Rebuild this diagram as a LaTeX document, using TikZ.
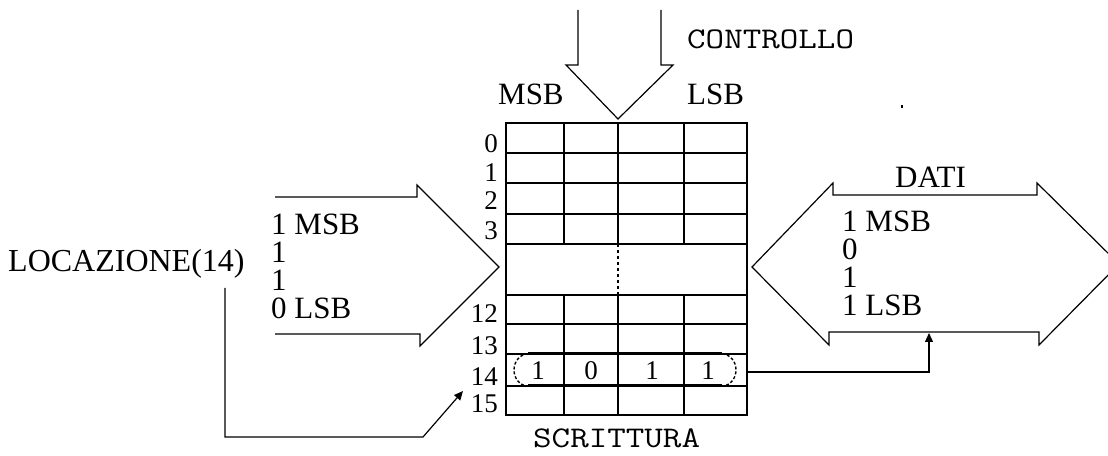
\documentclass[tikz,border=0pt]{standalone}
\usepackage{fontspec}
\setmainfont{Liberation Serif}
\usetikzlibrary{arrows.meta}
\begin{document}
\begin{tikzpicture}[x=1bp,y=-1bp,
  gridline/.style={line width=1.6bp},
  outline/.style={line width=1.2bp, line join=miter},
  lbl/.style={inner sep=0pt, anchor=base west, font=\fontsize{31bp}{36bp}\selectfont},
  stack/.style={inner sep=0pt, anchor=base west, align=left, font=\fontsize{31bp}{28bp}\selectfont},
  rowlbl/.style={inner sep=0pt, anchor=base east, font=\fontsize{27bp}{30bp}\selectfont},
  bitlbl/.style={inner sep=0pt, anchor=base, font=\fontsize{27bp}{30bp}\selectfont},
  monolbl/.style={inner sep=0pt, anchor=base west, font=\ttfamily\fontsize{30bp}{34bp}\selectfont},
  conn/.style={line width=1.2bp},
  tipend/.style={-{Triangle[length=9bp,width=8bp]}}
]
\useasboundingbox (0,0) rectangle (1108,456);
\clip (0,0) rectangle (1108,456);
\fill[white] (0,0) rectangle (1108,456);

% memory grid
\draw[gridline] (506,123) rectangle (747,415);
\foreach \yy in {153,183,214,244,295,324,354,386}
  \draw[gridline] (506,\yy) -- (747,\yy);
\foreach \xx in {564,618,684}{
  \draw[gridline] (\xx,123) -- (\xx,244);
  \draw[gridline] (\xx,295) -- (\xx,415);
}
\draw[gridline, dash pattern=on 3bp off 3bp] (618,244) -- (618,295);

% selected row 14 (ellipse)
\draw[line width=3bp] (528,354) -- (722,354) (528,386) -- (722,386);
\draw[line width=1.4bp, dash pattern=on 3bp off 2bp]
  (528,354) arc[start angle=270, end angle=90, x radius=14, y radius=16];
\draw[line width=1.4bp, dash pattern=on 3bp off 2bp]
  (722,354) arc[start angle=270, end angle=450, x radius=14, y radius=16];

% row labels
\node[rowlbl] (r0)  at (498,153) {0};
\node[rowlbl] (r1)  at (498,182) {1};
\node[rowlbl] (r2)  at (498,210) {2};
\node[rowlbl] (r3)  at (498,240) {3};
\node[rowlbl] (r12) at (498,323) {12};
\node[rowlbl] (r13) at (498,355) {13};
\node[rowlbl] (r14) at (498,386) {14};
\node[rowlbl] (r15) at (498,413) {15};

% bits in row 14
\node[bitlbl] (b3) at (538,380) {1};
\node[bitlbl] (b2) at (591,380) {0};
\node[bitlbl] (b1) at (652,380) {1};
\node[bitlbl] (b0) at (708,380) {1};

% control arrow (top)
\draw[outline] (578,10) -- (578,65) -- (566,65) -- (618,119) -- (673,65) -- (661,65) -- (661,10);
\node[monolbl] (ctrl) at (687,49) {\scalebox{1.2}[1]{CONTROLLO}};
\node[lbl] (msbtop) at (498,105) {MSB};
\node[lbl] (lsbtop) at (687,105) {LSB};

% address arrow (left)
\draw[outline] (275,197) -- (417,197) -- (417,185) -- (499,267) -- (420,346) -- (420,334) -- (275,334);
\node[stack] (addr) at (271,319) {1 MSB\\1\\1\\0 LSB};
\node[lbl, font=\fontsize{32bp}{36bp}\selectfont] (loc) at (8,272) {LOCAZIONE(14)};

% data arrow (right, double)
\draw[outline] (833,195) -- (1037,195) -- (1037,183) -- (1119,264) -- (1039,345) -- (1039,332)
  -- (829,332) -- (829,345) -- (752,267) -- (833,183) -- cycle;
\node[lbl] (dati) at (895,188) {DATI};
\node[stack] (data) at (842,316) {1 MSB\\0\\1\\1 LSB};

\node[monolbl] (scr) at (533,447) {\scalebox{1.2}[1]{SCRITTURA}};

% small dot
\fill (901,105) rectangle (903,108);

% connectors
\coordinate (locfoot) at (225,288);
\coordinate (lc1) at (225,437);
\coordinate (lc2) at (423,437);
\coordinate (row14in) at (463,391);
\draw[conn, tipend] (locfoot) -- (lc1) -- (lc2) -- (row14in);

\coordinate (row14out) at (747,372);
\coordinate (rc1) at (929,372);
\coordinate (datain) at (929,333);
\draw[conn, tipend] (row14out) -- (rc1) -- (datain);
\end{tikzpicture}
\end{document}
